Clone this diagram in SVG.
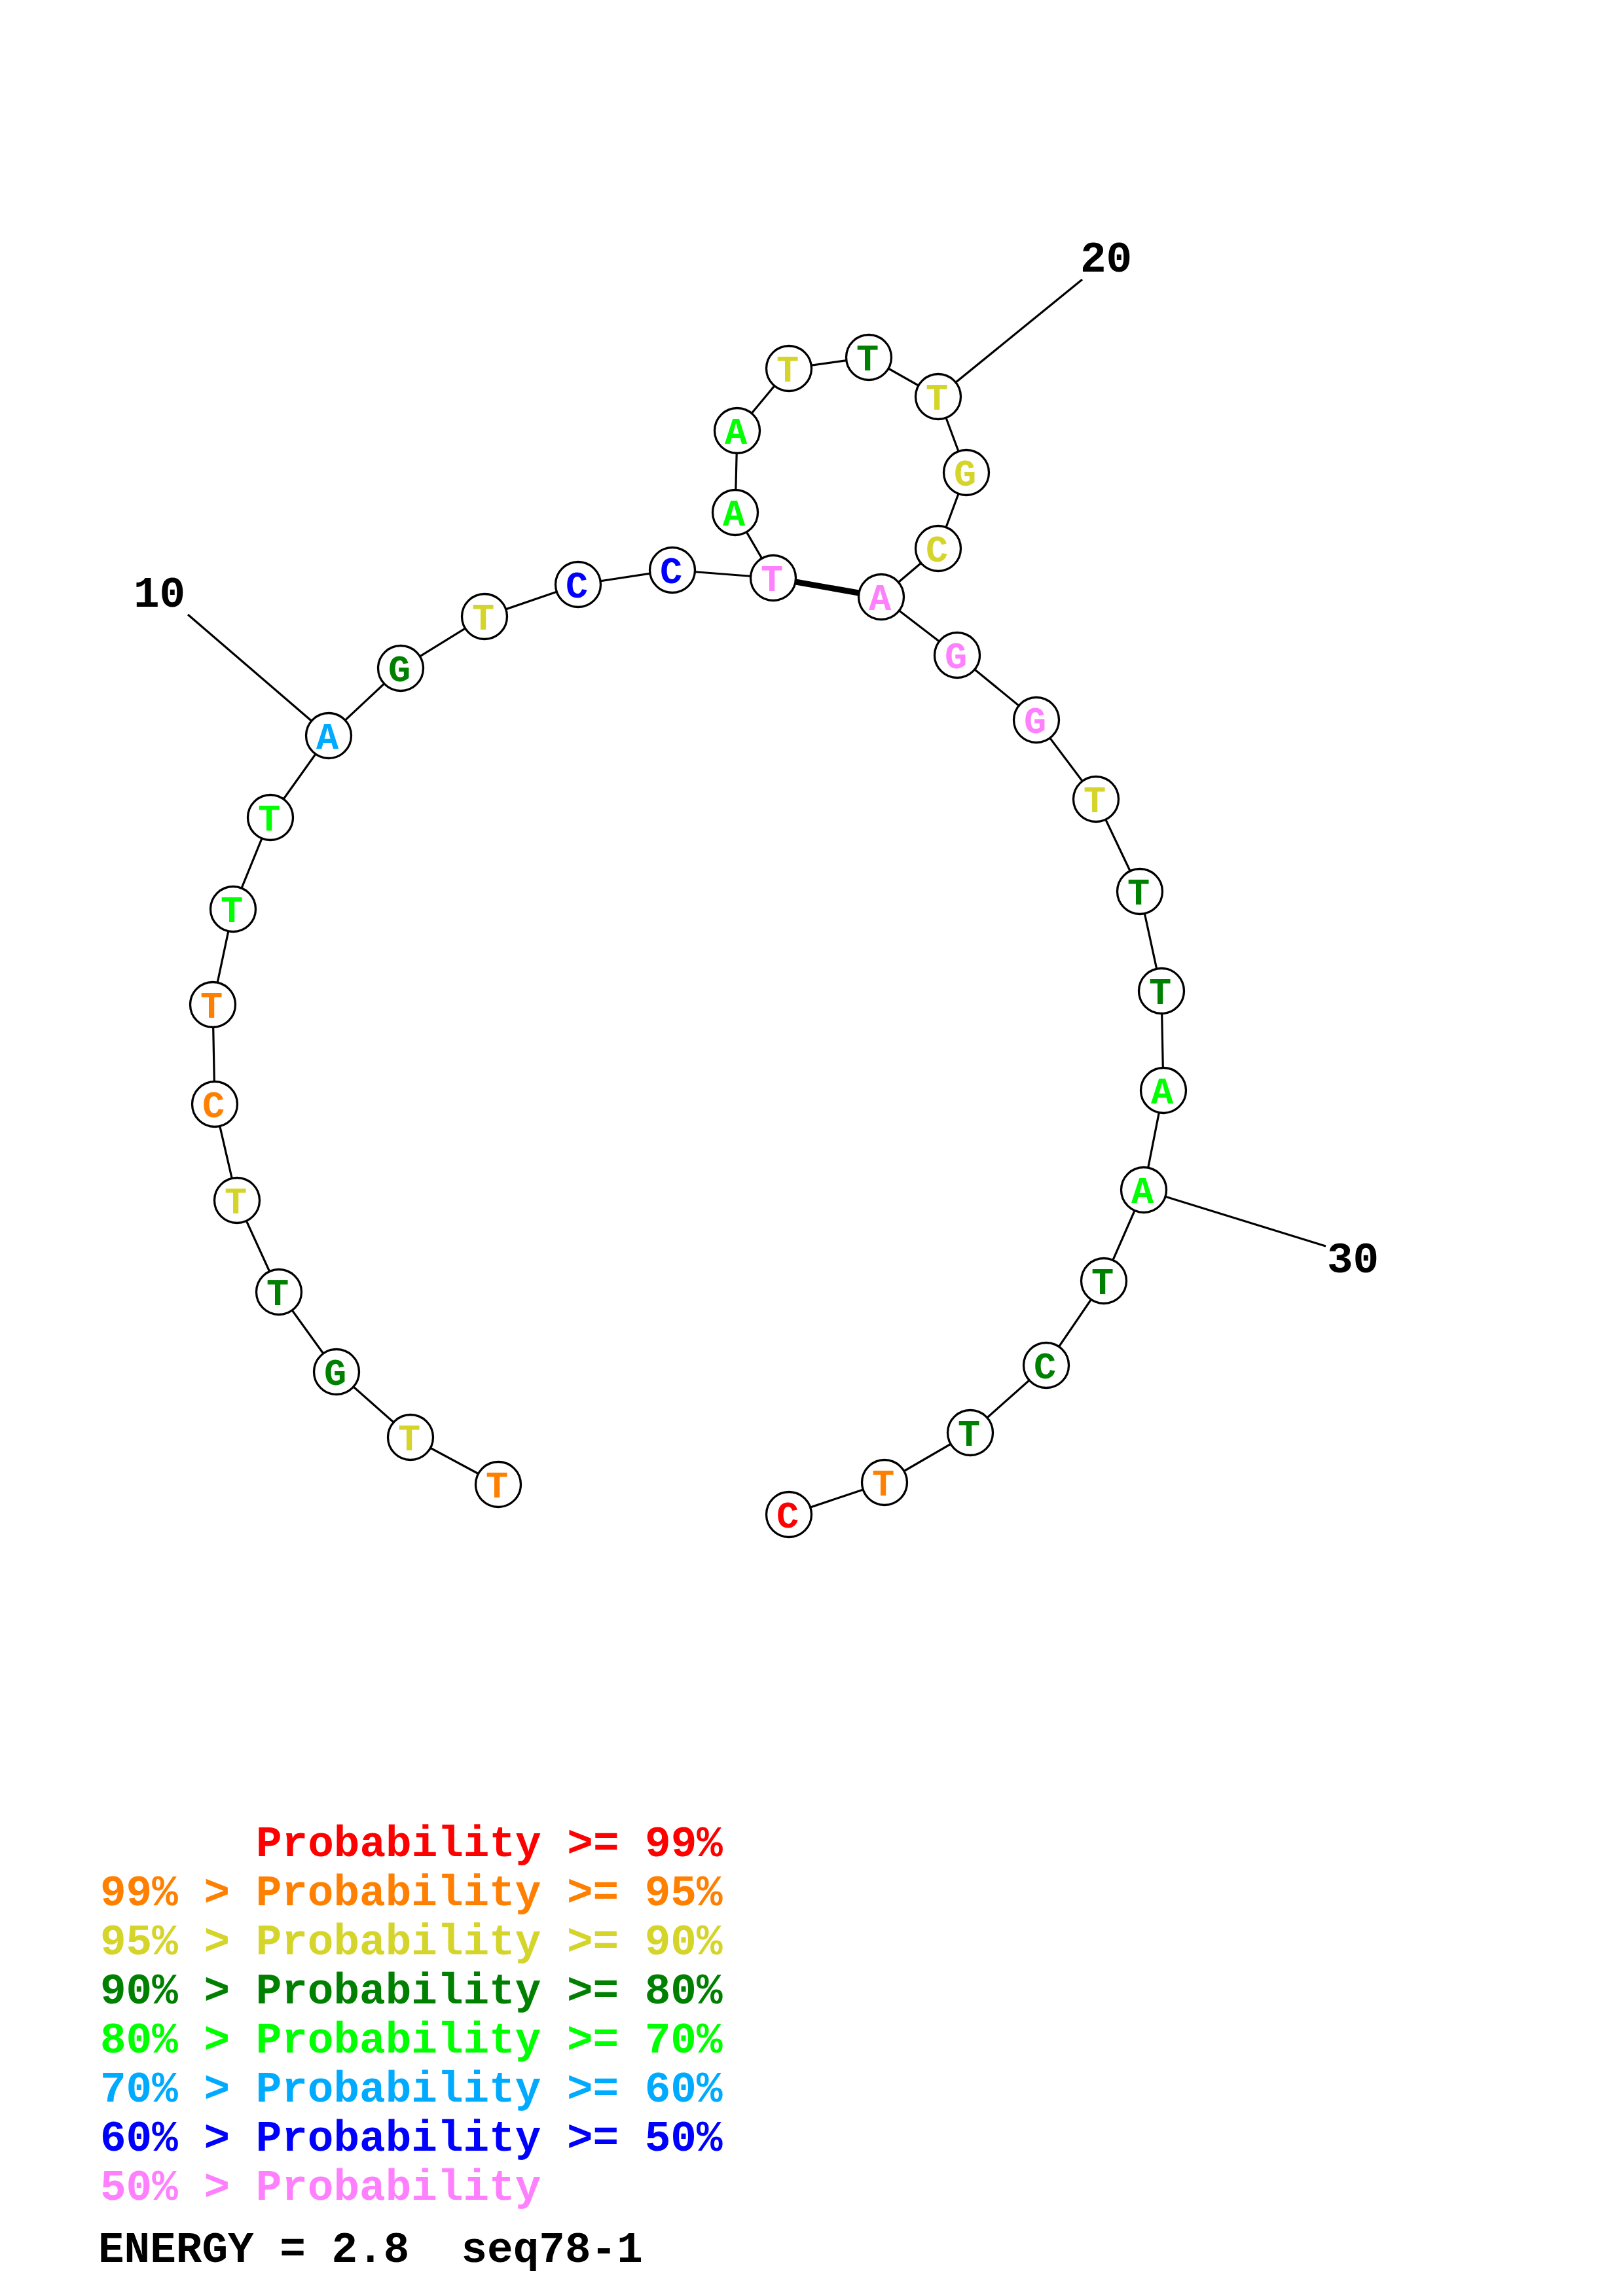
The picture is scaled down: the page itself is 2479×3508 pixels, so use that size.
<svg xmlns="http://www.w3.org/2000/svg" width="2479" height="3508" viewBox="0 0 2479 3508">
<style>
.bg{fill:#ffffff}
.bb{stroke:#000;stroke-width:3.2;fill:none}
.pair{stroke:#000;stroke-width:9;fill:none}
.nc{fill:#ffffff;stroke:#000;stroke-width:3.3}
.nt{font-family:"Liberation Mono","DejaVu Sans Mono",monospace;font-weight:bold;font-size:57px;text-anchor:middle}
.lab{font-family:"Liberation Mono","DejaVu Sans Mono",monospace;font-weight:bold;font-size:66px;fill:#000}
.leg{font-family:"Liberation Mono","DejaVu Sans Mono",monospace;font-weight:bold;font-size:66px}
.red{fill:#ff0000}.org{fill:#ff8000}.yel{fill:#d4d42a}.dgr{fill:#008000}.gre{fill:#00ff00}.lbl{fill:#00aaff}.blu{fill:#0000ff}.pnk{fill:#ff80ff}
</style>
<rect class="bg" x="0" y="0" width="2479" height="3508"/>
<g id="connectors">
<polyline class="bb" points="761,2268 627,2196 514,2096 426,1974 362,1834 328,1687 325,1535 356,1389 413,1249 502,1124 612,1021 740,942 883,893 1027,871 1181,883 1123,783 1126,658 1205,563 1327,546 1433,606 1476,722 1433,838 1346,912 1462,1001 1583,1100 1674,1221 1741,1362 1774,1514 1777,1666 1747,1818 1686,1957 1598,2086 1482,2189 1351,2265 1205,2314"/>
<line class="pair" x1="1181" y1="883" x2="1346" y2="912"/>
<line class="bb" x1="287" y1="939" x2="502" y2="1124"/>
<line class="bb" x1="1653" y1="427" x2="1433" y2="606"/>
<line class="bb" x1="2025" y1="1904" x2="1747" y2="1818"/>
</g>
<g id="n1"><circle class="nc" cx="761" cy="2268" r="34.5"/><text class="nt org" x="759" y="2288">T</text></g>
<g id="n2"><circle class="nc" cx="627" cy="2196" r="34.5"/><text class="nt yel" x="625" y="2216">T</text></g>
<g id="n3"><circle class="nc" cx="514" cy="2096" r="34.5"/><text class="nt dgr" x="512" y="2116">G</text></g>
<g id="n4"><circle class="nc" cx="426" cy="1974" r="34.5"/><text class="nt dgr" x="424" y="1994">T</text></g>
<g id="n5"><circle class="nc" cx="362" cy="1834" r="34.5"/><text class="nt yel" x="360" y="1854">T</text></g>
<g id="n6"><circle class="nc" cx="328" cy="1687" r="34.5"/><text class="nt org" x="326" y="1707">C</text></g>
<g id="n7"><circle class="nc" cx="325" cy="1535" r="34.5"/><text class="nt org" x="323" y="1555">T</text></g>
<g id="n8"><circle class="nc" cx="356" cy="1389" r="34.5"/><text class="nt gre" x="354" y="1409">T</text></g>
<g id="n9"><circle class="nc" cx="413" cy="1249" r="34.5"/><text class="nt gre" x="411" y="1269">T</text></g>
<g id="n10"><circle class="nc" cx="502" cy="1124" r="34.5"/><text class="nt lbl" x="500" y="1144">A</text></g>
<g id="n11"><circle class="nc" cx="612" cy="1021" r="34.5"/><text class="nt dgr" x="610" y="1041">G</text></g>
<g id="n12"><circle class="nc" cx="740" cy="942" r="34.5"/><text class="nt yel" x="738" y="962">T</text></g>
<g id="n13"><circle class="nc" cx="883" cy="893" r="34.5"/><text class="nt blu" x="881" y="913">C</text></g>
<g id="n14"><circle class="nc" cx="1027" cy="871" r="34.5"/><text class="nt blu" x="1025" y="891">C</text></g>
<g id="n15"><circle class="nc" cx="1181" cy="883" r="34.5"/><text class="nt pnk" x="1179" y="903">T</text></g>
<g id="n16"><circle class="nc" cx="1123" cy="783" r="34.5"/><text class="nt gre" x="1121" y="803">A</text></g>
<g id="n17"><circle class="nc" cx="1126" cy="658" r="34.5"/><text class="nt gre" x="1124" y="678">A</text></g>
<g id="n18"><circle class="nc" cx="1205" cy="563" r="34.5"/><text class="nt yel" x="1203" y="583">T</text></g>
<g id="n19"><circle class="nc" cx="1327" cy="546" r="34.5"/><text class="nt dgr" x="1325" y="566">T</text></g>
<g id="n20"><circle class="nc" cx="1433" cy="606" r="34.5"/><text class="nt yel" x="1431" y="626">T</text></g>
<g id="n21"><circle class="nc" cx="1476" cy="722" r="34.5"/><text class="nt yel" x="1474" y="742">G</text></g>
<g id="n22"><circle class="nc" cx="1433" cy="838" r="34.5"/><text class="nt yel" x="1431" y="858">C</text></g>
<g id="n23"><circle class="nc" cx="1346" cy="912" r="34.5"/><text class="nt pnk" x="1344" y="932">A</text></g>
<g id="n24"><circle class="nc" cx="1462" cy="1001" r="34.5"/><text class="nt pnk" x="1460" y="1021">G</text></g>
<g id="n25"><circle class="nc" cx="1583" cy="1100" r="34.5"/><text class="nt pnk" x="1581" y="1120">G</text></g>
<g id="n26"><circle class="nc" cx="1674" cy="1221" r="34.5"/><text class="nt yel" x="1672" y="1241">T</text></g>
<g id="n27"><circle class="nc" cx="1741" cy="1362" r="34.5"/><text class="nt dgr" x="1739" y="1382">T</text></g>
<g id="n28"><circle class="nc" cx="1774" cy="1514" r="34.5"/><text class="nt dgr" x="1772" y="1534">T</text></g>
<g id="n29"><circle class="nc" cx="1777" cy="1666" r="34.5"/><text class="nt gre" x="1775" y="1686">A</text></g>
<g id="n30"><circle class="nc" cx="1747" cy="1818" r="34.5"/><text class="nt gre" x="1745" y="1838">A</text></g>
<g id="n31"><circle class="nc" cx="1686" cy="1957" r="34.5"/><text class="nt dgr" x="1684" y="1977">T</text></g>
<g id="n32"><circle class="nc" cx="1598" cy="2086" r="34.5"/><text class="nt dgr" x="1596" y="2106">C</text></g>
<g id="n33"><circle class="nc" cx="1482" cy="2189" r="34.5"/><text class="nt dgr" x="1480" y="2209">T</text></g>
<g id="n34"><circle class="nc" cx="1351" cy="2265" r="34.5"/><text class="nt org" x="1349" y="2285">T</text></g>
<g id="n35"><circle class="nc" cx="1205" cy="2314" r="34.5"/><text class="nt red" x="1203" y="2334">C</text></g>
<g id="labels">
<text class="lab" x="204" y="927">10</text>
<text class="lab" x="1650" y="415">20</text>
<text class="lab" x="2027" y="1944">30</text>
</g>
<g id="legend">
<text class="leg red" x="391" y="2836">Probability &gt;= 99%</text>
<text class="leg org" x="153" y="2911">99% &gt; Probability &gt;= 95%</text>
<text class="leg yel" x="153" y="2986">95% &gt; Probability &gt;= 90%</text>
<text class="leg dgr" x="153" y="3061">90% &gt; Probability &gt;= 80%</text>
<text class="leg gre" x="153" y="3136">80% &gt; Probability &gt;= 70%</text>
<text class="leg lbl" x="153" y="3211">70% &gt; Probability &gt;= 60%</text>
<text class="leg blu" x="153" y="3286">60% &gt; Probability &gt;= 50%</text>
<text class="leg pnk" x="153" y="3361">50% &gt; Probability</text>
<text class="leg" fill="#000" x="150" y="3456" xml:space="preserve">ENERGY = 2.8  seq78-1</text>
</g>
</svg>
